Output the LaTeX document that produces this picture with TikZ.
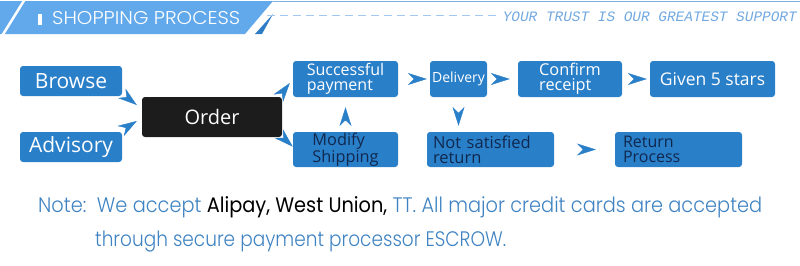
\documentclass[tikz,border=0pt]{standalone}
\usepackage{fontspec}
\usepackage{graphicx}
\setmainfont{Open Sans}
\newfontfamily\notefont{Poppins Light}
\newfontfamily\notebold{Poppins}
\newfontfamily\mottofont{Liberation Mono}
\usetikzlibrary{arrows.meta}
\definecolor{boxblue}{HTML}{2A7FC9}
\definecolor{bandblue}{HTML}{62A9EC}
\definecolor{banddark}{HTML}{2F7CC6}
\definecolor{lineblue}{HTML}{7FB0E2}
\definecolor{dashblue}{HTML}{A2C8EE}
\definecolor{mottoblue}{HTML}{72A9E0}
\definecolor{noteblue}{HTML}{3F83C2}
\definecolor{navytext}{HTML}{10284E}
\definecolor{orderblack}{HTML}{1C1C1C}

\begin{document}
\begin{tikzpicture}[
    x=1pt, y=-1pt,
    flowbox/.style={rectangle, fill=boxblue, text=white, rounded corners=3pt,
                    inner sep=0pt, align=left},
    arrow/.style={-{Stealth[length=19pt, width=12pt, inset=6pt]}, boxblue, line width=0.4pt}
  ]
    \useasboundingbox (0,0) rectangle (800,265);

    % header band
    \fill[bandblue] (0,1) -- (273,1) -- (245,34) -- (0,34) -- cycle;
    \draw[white, line width=2.5pt] (2,36) -- (25,-1);
    \fill[white] (38,14) rectangle (42,25);
    \fill[banddark] (255,34) -- (262,34) -- (273,14) -- cycle;
    \draw[lineblue, line width=1pt] (273,1.5) -- (800,1.5);
    \draw[dashblue, line width=1.2pt, dash pattern=on 8pt off 5pt] (267,15.5) -- (497,15.5);
    \node[anchor=west, text=white, inner sep=0pt] (title) at (52,18)
        {\resizebox{188pt}{\height}{\fontsize{18.5}{18.5}\notefont SHOPPING PROCESS}};
    \node[anchor=east, text=mottoblue, inner sep=0pt] (motto) at (797,16.5)
        {\resizebox{294pt}{\height}{\fontsize{14.4}{14.4}\mottofont\itshape YOUR TRUST IS OUR GREATEST SUPPORT}};

    % flow boxes
    \node[flowbox, minimum width=102pt, minimum height=30pt, font=\fontsize{21}{21}\selectfont] (browse) at (71,81) {Browse};
    \node[flowbox, minimum width=102pt, minimum height=30pt, font=\fontsize{21}{21}\selectfont] (advisory) at (71,147) {Advisory};
    \node[flowbox, fill=orderblack, minimum width=140pt, minimum height=40pt, font=\fontsize{20}{20}\selectfont] (order) at (212,117) {Order};
    \node[flowbox, minimum width=105pt, minimum height=36pt, font=\fontsize{16}{15}\selectfont] (pay) at (345.5,79) {Successful\\payment};
    \node[flowbox, text=navytext, minimum width=105pt, minimum height=35pt, font=\fontsize{16.3}{15}\selectfont] (modify) at (345.5,149.5) {Modify\\Shipping};
    \node[flowbox, minimum width=57pt, minimum height=36pt, font=\fontsize{14}{14}\selectfont] (delivery) at (458.5,79) {Delivery};
    \node[flowbox, minimum width=104pt, minimum height=36pt, font=\fontsize{16.3}{15}\selectfont] (confirm) at (570,79) {Confirm\\receipt};
    \node[flowbox, minimum width=125pt, minimum height=36pt, font=\fontsize{17.5}{17.5}\selectfont] (stars) at (712.5,79) {Given 5 stars};
    \node[flowbox, text=navytext, text width=115pt, inner xsep=6pt, minimum height=35pt, font=\fontsize{16.5}{15}\selectfont] (notsat) at (490.5,149.5) {Not satisfied\\return};
    \node[flowbox, text=navytext, text width=111pt, inner xsep=8pt, minimum height=35pt, font=\fontsize{16}{15}\selectfont] (retproc) at (678.5,149.5) {Return\\Process};

    % arrows
    \draw[arrow] ([shift={(4.7,1.1)}]browse.south east) -- ([shift={(-5,-12)}]order.west);
    \draw[arrow] ([shift={(3.7,-4)}]advisory.north east) -- ([shift={(-5,4)}]order.west);
    \draw[arrow] ([shift={(0,-3.8)}]order.north east) -- ([shift={(-3,4)}]pay.west);
    \draw[arrow] ([shift={(1.4,0.9)}]order.south east) -- ([shift={(0,-2.8)}]modify.west);
    \draw[arrow, shorten <=12pt, shorten >=10pt] (modify.north) -- (pay.south);
    \draw[arrow, shorten <=16pt, shorten >=3pt] (pay.east) -- (delivery.west);
    \draw[arrow, shorten <=10pt, shorten >=8pt] (delivery.east) -- (confirm.west);
    \draw[arrow, shorten <=16pt, shorten >=6pt] (delivery.south) -- (delivery.south |- notsat.north);
    \draw[arrow, shorten <=12pt, shorten >=3pt] (confirm.east) -- (stars.west);
    \draw[arrow, shorten <=29pt, shorten >=19pt] (notsat.east) -- (retproc.west);

    % note
    \node[anchor=base west, inner sep=0pt, text=noteblue] (note1) at (38,212)
        {\resizebox{724pt}{\height}{\fontsize{21}{21}\notefont Note:\ \ We accept {\notebold\color{black}Alipay, West Union,} TT. All major credit cards are accepted}};
    \node[anchor=base west, inner sep=0pt, text=noteblue] (note2) at (95,246)
        {\resizebox{411pt}{\height}{\fontsize{21}{21}\notefont through secure payment processor ESCROW.}};
\end{tikzpicture}
\end{document}
